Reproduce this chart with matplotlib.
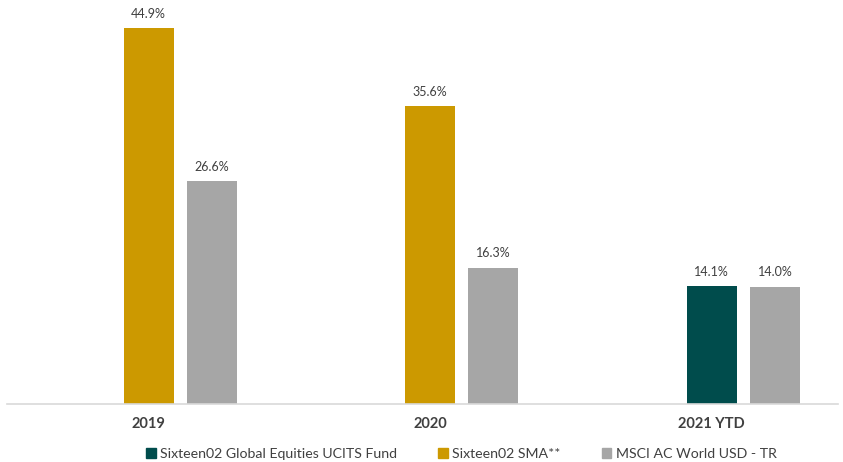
import numpy as np
import matplotlib
matplotlib.use('Agg')
import matplotlib.pyplot as plt
from matplotlib.patches import Patch

plt.rcParams['font.family'] = ['Lato', 'DejaVu Sans']

years = ['2019', '2020', '2021 YTD']
ucits = [np.nan, np.nan, 14.1]
sma = [44.9, 35.6, np.nan]
msci = [26.6, 16.3, 14.0]
series_names = ['Sixteen02 Global Equities UCITS Fund', 'Sixteen02 SMA**', 'MSCI AC World USD - TR']

c_ucits = '#004c4c'
c_sma = '#cc9900'
c_msci = '#a6a6a6'
txt = '#404040'

fig = plt.figure(figsize=(8.43, 4.62), dpi=100)
ax = fig.add_axes([0.008, 0.1255, 0.986, 0.87])

x = np.arange(len(years))
w = 0.178
off = 0.224

def draw(vals, pos, color):
    for xi, v in zip(pos, vals):
        if np.isnan(v):
            continue
        ax.bar(xi, v, w, color=color, zorder=2)
        ax.text(xi, v + 1.0, f'{v:.1f}%', ha='center', va='bottom',
                fontsize=9, color=txt)

draw(ucits, x, c_ucits)
draw(sma, x, c_sma)
draw(msci, x + off, c_msci)

ax.set_xlim(-0.504, 2.448)
ax.set_ylim(0, 48)
ax.set_xticks(x)
ax.set_xticklabels(years, fontsize=10.5, fontweight='bold', color=txt)
ax.tick_params(axis='x', length=0, pad=9)
ax.set_yticks([])
for s in ['top', 'right', 'left']:
    ax.spines[s].set_visible(False)
ax.spines['bottom'].set_color('#d9d9d9')
ax.spines['bottom'].set_linewidth(1.2)

handles = [Patch(color=c) for c in (c_ucits, c_sma, c_msci)]
fig.legend(handles, series_names, loc='center', bbox_to_anchor=(0.547, 0.018),
           ncol=3, frameon=False, fontsize=10.2, handlelength=0.7, handleheight=0.7,
           handletextpad=0.3, columnspacing=2.9, labelcolor=txt)

fig.savefig('out.png', dpi=100)
